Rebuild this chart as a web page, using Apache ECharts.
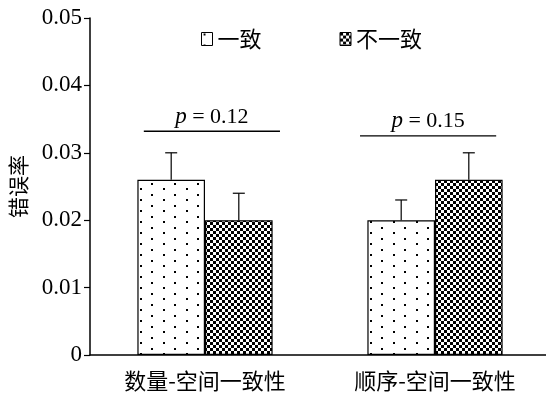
<!DOCTYPE html>
<html><head><meta charset="utf-8">
<script src="https://cdn.jsdelivr.net/npm/echarts@6/dist/echarts.min.js"></script>
<style>html,body{margin:0;padding:0;background:#fff}#c{width:546px;height:396px}</style>
</head><body><div id="c"></div>
<script>
const categories = ['数量-空间一致性', '顺序-空间一致性'];
const seriesNames = ['一致', '不一致'];
const consistent = [0.026, 0.020];
const consistentErr = [0.004, 0.003];
const inconsistent = [0.020, 0.026];
const inconsistentErr = [0.004, 0.004];
const pLabels = ['0.12', '0.15'];
const pLineValues = [0.0332, 0.0325];
const yTicks = [0, 0.01, 0.02, 0.03, 0.04, 0.05];

function dotTile() {
  const c = document.createElement('canvas');
  c.width = 23; c.height = 11;
  const g = c.getContext('2d');
  g.fillStyle = '#fff'; g.fillRect(0, 0, 23, 11);
  g.fillStyle = '#000';
  g.fillRect(2, 1, 2, 2);
  g.fillRect(13, 7, 2, 2);
  return c;
}
function checkTile() {
  const c = document.createElement('canvas');
  c.width = 6; c.height = 6;
  const g = c.getContext('2d');
  g.fillStyle = '#fff'; g.fillRect(0, 0, 6, 6);
  g.fillStyle = '#000';
  g.fillRect(0, 0, 3, 3);
  g.fillRect(3, 3, 3, 3);
  return c;
}
const dotPattern = { image: dotTile(), repeat: 'repeat' };
const checkPattern = { image: checkTile(), repeat: 'repeat' };

const BAR_FRAC = 0.294;
function errorSeries(vals, errs, side) {
  return {
    type: 'custom',
    silent: true,
    z: 5,
    data: vals.map((v, i) => [i, v, v + errs[i]]),
    renderItem: function (params, api) {
      const band = api.size([1, 0])[0];
      const base = api.coord([api.value(0), api.value(1)]);
      const top = api.coord([api.value(0), api.value(2)]);
      const x = base[0] + side * band * BAR_FRAC / 2;
      const cap = 6;
      return {
        type: 'group',
        children: [
          { type: 'line', shape: { x1: x, y1: base[1], x2: x, y2: top[1] }, style: { stroke: '#000', lineWidth: 1.2 } },
          { type: 'line', shape: { x1: x - cap, y1: top[1], x2: x + cap, y2: top[1] }, style: { stroke: '#000', lineWidth: 1.2 } }
        ]
      };
    }
  };
}

const pSeries = {
  type: 'custom',
  silent: true,
  z: 6,
  data: pLineValues.map((v, i) => [i, v]),
  renderItem: function (params, api) {
    const i = api.value(0);
    const band = api.size([1, 0])[0];
    const p = api.coord([i, api.value(1)]);
    const shift = (i === 0 ? 1 : -1) * band * 0.03;
    const cx = p[0] + shift;
    const half = band * 0.296;
    return {
      type: 'group',
      children: [
        { type: 'line', shape: { x1: cx - half, y1: p[1], x2: cx + half, y2: p[1] }, style: { stroke: '#000', lineWidth: 1.3 } },
        { type: 'text', x: cx, y: p[1] - 3, style: {
            text: '{i|p} = ' + pLabels[i], textAlign: 'center', textVerticalAlign: 'bottom',
            fontFamily: 'Liberation Serif', fontSize: 22, fill: '#000',
            rich: { i: { fontStyle: 'italic', fontFamily: 'Liberation Serif', fontSize: 23 } }
          } }
      ]
    };
  }
};

const chart = echarts.init(document.getElementById('c'));
chart.setOption({
  animation: false,
  backgroundColor: '#fff',
  grid: { left: 90, right: -4, top: 18, bottom: 41, containLabel: false, outerBoundsMode: 'none' },
  legend: {
    left: 196, top: 23,
    itemWidth: 11, itemHeight: 13, itemGap: 78,
    icon: 'rect',
    itemStyle: { borderColor: '#000', borderWidth: 1 },
    textStyle: { fontFamily: 'Noto Sans CJK SC', fontSize: 22, color: '#000', padding: [0, 0, 0, 0] },
    data: seriesNames
  },
  xAxis: {
    type: 'category',
    data: categories,
    axisLine: { lineStyle: { color: '#000', width: 1.5 } },
    axisTick: { show: false },
    axisLabel: { color: '#000', fontFamily: 'Noto Sans CJK SC', fontSize: 22, margin: 15 }
  },
  yAxis: {
    type: 'value',
    min: yTicks[0], max: yTicks[yTicks.length - 1], interval: 0.01,
    name: '错误率',
    nameLocation: 'middle',
    nameGap: 61,
    nameTextStyle: { color: '#000', fontFamily: 'Noto Sans CJK SC', fontSize: 21 },
    axisLine: { show: true, lineStyle: { color: '#000', width: 1.5 } },
    axisTick: { show: true, length: 6, lineStyle: { color: '#000', width: 1.2 } },
    splitLine: { show: false },
    axisLabel: { color: '#000', fontFamily: 'Liberation Serif', fontSize: 23, margin: 8,
      formatter: v => v === 0 ? '0' : v.toFixed(2) }
  },
  series: [
    { name: seriesNames[0], type: 'bar', data: consistent, barWidth: (BAR_FRAC * 100) + '%', barGap: '0%',
      itemStyle: { color: dotPattern, borderColor: '#000', borderWidth: 1.2 } },
    { name: seriesNames[1], type: 'bar', data: inconsistent, barWidth: (BAR_FRAC * 100) + '%', barGap: '0%',
      itemStyle: { color: checkPattern, borderColor: '#000', borderWidth: 1.2 } },
    errorSeries(consistent, consistentErr, -1),
    errorSeries(inconsistent, inconsistentErr, 1),
    pSeries
  ]
});
</script></body></html>
